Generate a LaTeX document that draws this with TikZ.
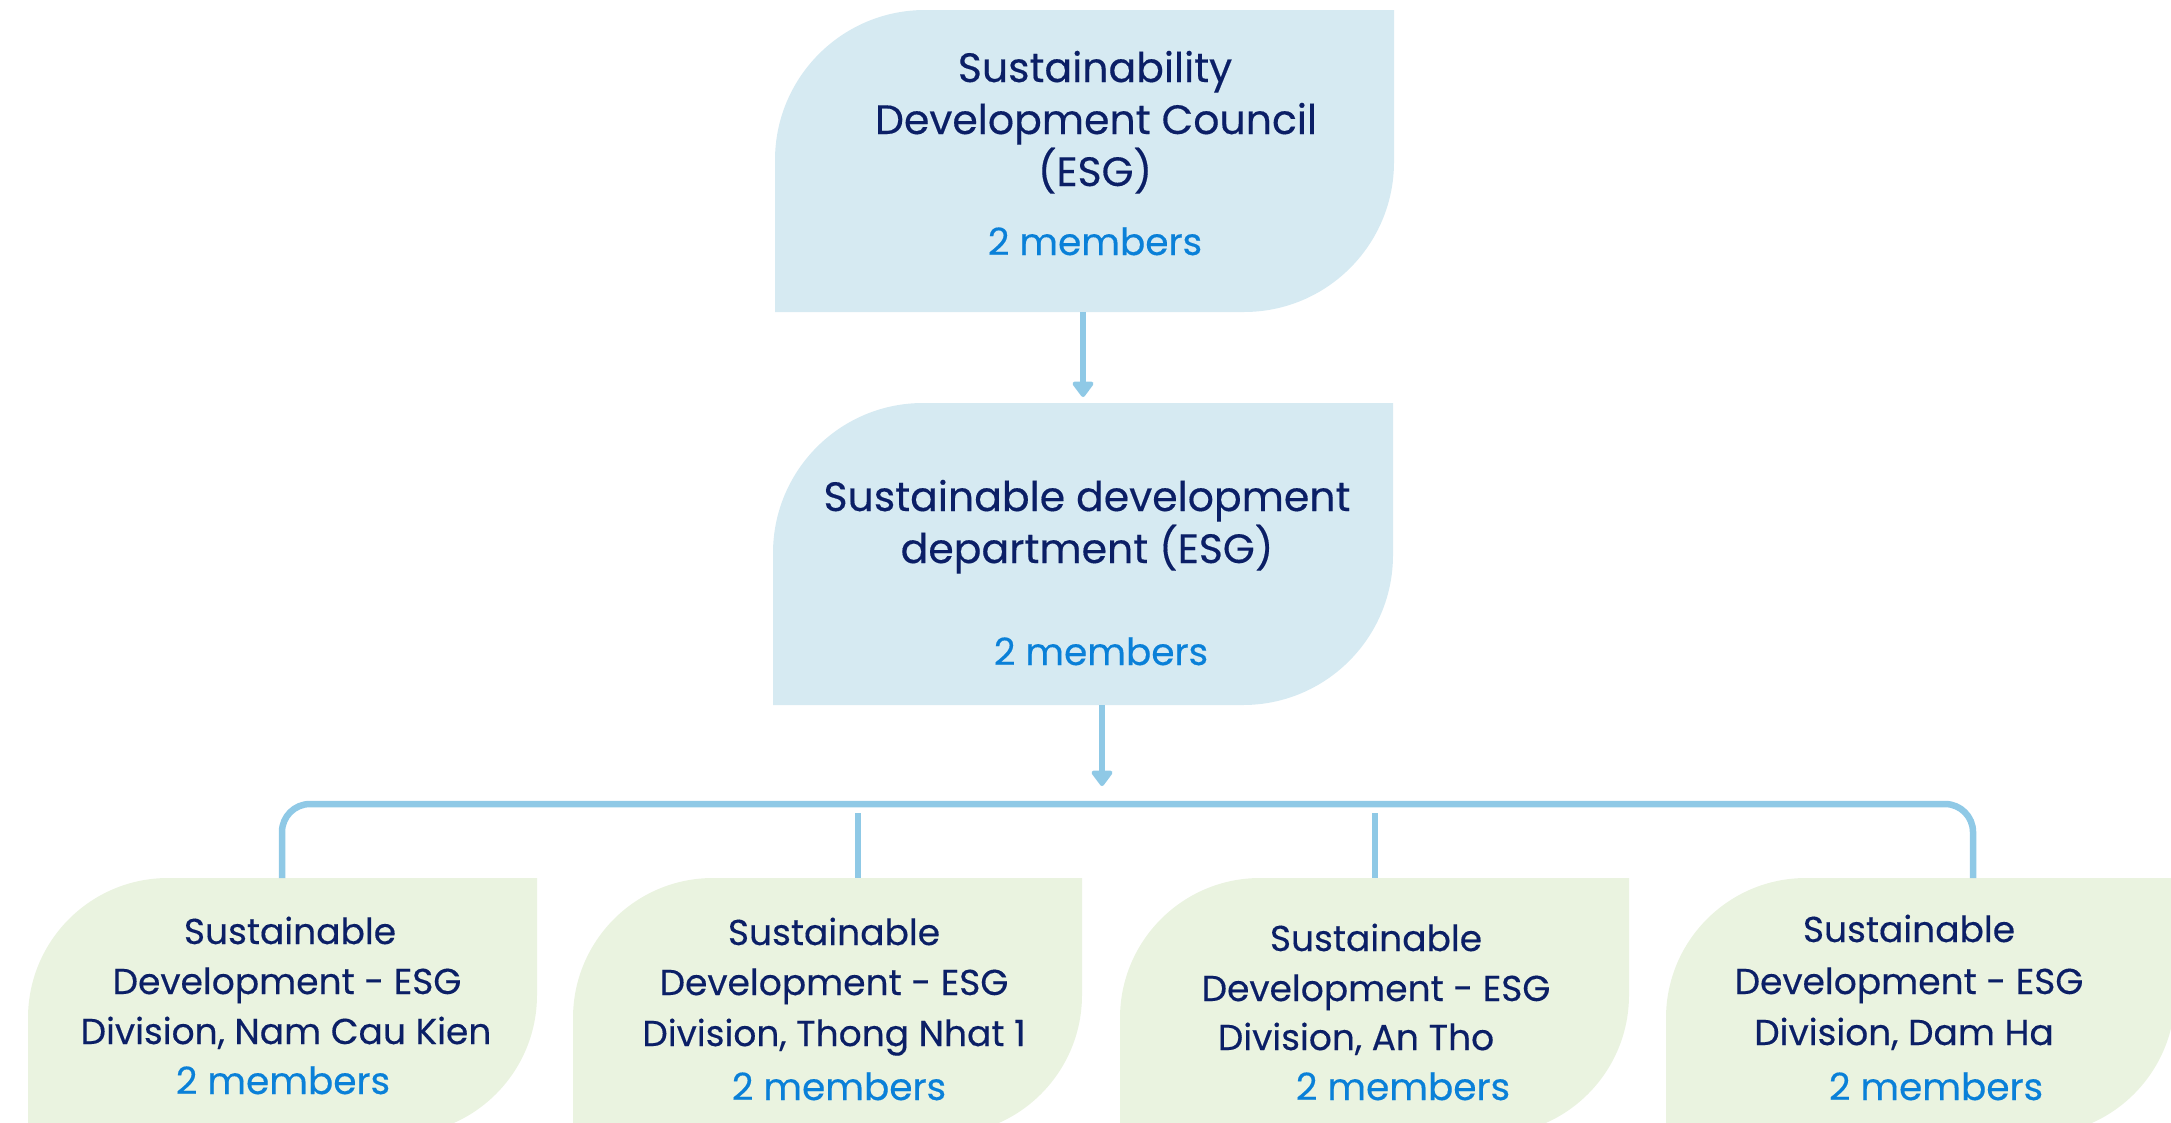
\documentclass[tikz,border=0pt]{standalone}
\usepackage{fontspec}
\setmainfont{Poppins}[FakeBold=0.35]
\usetikzlibrary{arrows.meta}
\definecolor{boxblue}{HTML}{D6EAF2}
\definecolor{boxgreen}{HTML}{EAF3E0}
\definecolor{linkblue}{HTML}{8FC9E6}
\definecolor{navytext}{HTML}{0B1F66}
\definecolor{memblue}{HTML}{0A80D8}
\newcommand{\leafshape}[3]{% fill colour, node name, radius
  \fill[#1] (#2.south west) -- ([yshift=-#3]#2.north west)
    .. controls ([yshift=-0.4477*#3]#2.north west) and ([xshift=0.4477*#3]#2.north west) ..
    ([xshift=#3]#2.north west) -- (#2.north east) -- ([yshift=#3]#2.south east)
    .. controls ([yshift=0.4477*#3]#2.south east) and ([xshift=-0.4477*#3]#2.south east) ..
    ([xshift=-#3]#2.south east) -- cycle;}
\begin{document}
\begin{tikzpicture}[x=1pt,y=-1pt,
  frame/.style={inner sep=0pt, outer sep=0pt, draw=none},
  bigtxt/.style={anchor=base, inner sep=0pt, text=navytext, font=\fontsize{41}{52}\selectfont},
  txt/.style={anchor=base, inner sep=0pt, text=navytext, font=\fontsize{36}{50}\selectfont},
  mem/.style={anchor=base, inner sep=0pt, text=memblue, font=\fontsize{37.5}{50}\selectfont},
  link/.style={draw=linkblue, line width=6.5pt},
  linkarrow/.style={link, -{Triangle[width=24pt,length=17pt,round]}}]
\useasboundingbox (0,0) rectangle (2171,1122);
\begin{scope}
\clip (0,0) rectangle (2171,1122);
% frames
\node[frame, minimum width=619pt, minimum height=302pt] (council) at (1084.5,161) {};
\node[frame, minimum width=620pt, minimum height=302pt] (dept) at (1083,554) {};
\node[frame, minimum width=509pt, minimum height=257pt] (d1) at (282.5,1006.5) {};
\node[frame, minimum width=509pt, minimum height=257pt] (d2) at (827.5,1006.5) {};
\node[frame, minimum width=509pt, minimum height=257pt] (d3) at (1374.5,1006.5) {};
\node[frame, minimum width=509pt, minimum height=257pt] (d4) at (1920.5,1006.5) {};
\leafshape{boxblue}{council}{150pt}
\leafshape{boxblue}{dept}{150pt}
\leafshape{boxgreen}{d1}{140pt}
\leafshape{boxgreen}{d2}{140pt}
\leafshape{boxgreen}{d3}{140pt}
\leafshape{boxgreen}{d4}{140pt}
\end{scope}
% connectors
\coordinate (a1s) at (1083,312);
\coordinate (a1e) at (1083,397);
\draw[linkarrow] (a1s) -- (a1e);
\coordinate (a2s) at (1102,705);
\coordinate (a2e) at (1102,786);
\draw[linkarrow] (a2s) -- (a2e);
\coordinate (b1) at (282,878);
\coordinate (b4) at (1973,878);
\draw[link, rounded corners=28pt] (b1) -- (282,804) -- (1973,804) -- (b4);
\coordinate (b2s) at (858,813);
\coordinate (b2e) at (858,878);
\coordinate (b3s) at (1375,813);
\coordinate (b3e) at (1375,878);
\draw[link] (b2s) -- (b2e);
\draw[link] (b3s) -- (b3e);
% texts top
\node[bigtxt] (t1) at (1095,82) {Sustainability};
\node[bigtxt] (t2) at (1096,134) {Development Council};
\node[bigtxt] (t3) at (1095,186) {(ESG)};
\node[mem] (t4) at (1095,255) {2 members};
% dept
\node[bigtxt] (m1) at (1087,511) {Sustainable development};
\node[bigtxt] (m2) at (1087,563) {department (ESG)};
\node[mem] (m3) at (1101,665) {2 members};
% d1
\node[txt] (p1) at (290,944) {Sustainable};
\node[txt] (p2) at (287,994) {Development - ESG};
\node[txt] (p3) at (286,1044) {Division, Nam Cau Kien};
\node[mem] (p4) at (283,1094) {2 members};
% d2
\node[txt] (q1) at (834,945) {Sustainable};
\node[txt] (q2) at (834,995) {Development - ESG};
\node[txt] (q3) at (834,1046) {Division, Thong Nhat 1};
\node[mem] (q4) at (839,1100) {2 members};
% d3
\node[txt] (r1) at (1376,951) {Sustainable};
\node[txt] (r2) at (1376,1001) {Development - ESG};
\node[txt] (r3) at (1356,1050) {Division, An Tho};
\node[mem] (r4) at (1403,1100) {2 members};
% d4
\node[txt] (s1) at (1909,942) {Sustainable};
\node[txt] (s2) at (1909,994) {Development - ESG};
\node[txt] (s3) at (1904,1045) {Division, Dam Ha};
\node[mem] (s4) at (1936,1100) {2 members};
\end{tikzpicture}
\end{document}
